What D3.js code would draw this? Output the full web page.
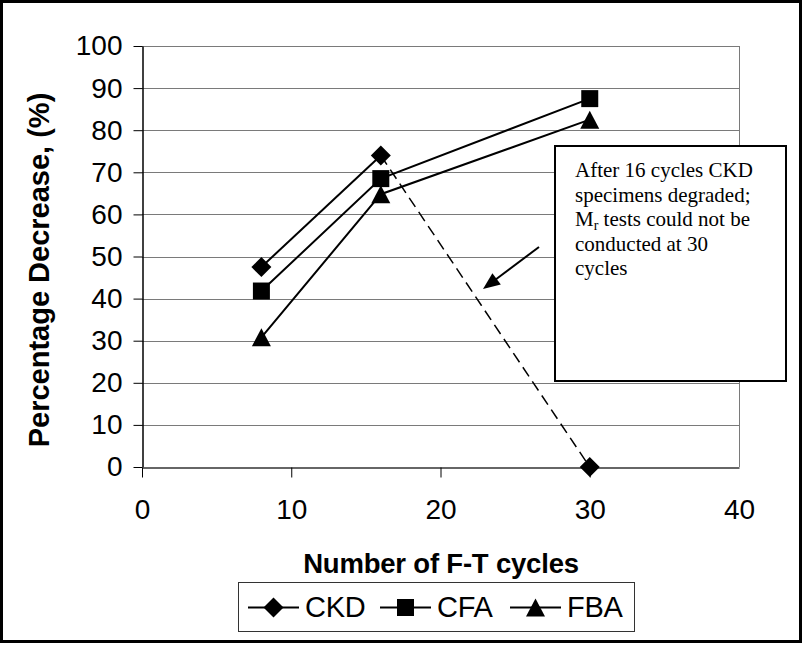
<!DOCTYPE html>
<html>
<head>
<meta charset="utf-8">
<script src="https://cdn.jsdelivr.net/npm/d3@7"></script>
<style>
  body { margin: 0; background: #fff; }
  svg { display: block; }
</style>
</head>
<body>
<div id="chart"></div>
<script>
// data
var cycles = [8, 16, 30];
var ckd = [47.5, 74, 0];
var cfa = [41.8, 68.5, 87.5];
var fba = [30.8, 64.8, 82.5];
var seriesNames = ["CKD", "CFA", "FBA"];
var xTicks = [0, 10, 20, 30, 40];
var yTicks = [0, 10, 20, 30, 40, 50, 60, 70, 80, 90, 100];
var noteLines = ["After 16 cycles CKD", "specimens degraded;", "M|r| tests could not be", "conducted at 30", "cycles"];

var width = 804, height = 645;
var plot = { left: 142, top: 46, right: 739, bottom: 467 };

var svg = d3.select("#chart").append("svg")
    .attr("width", width)
    .attr("height", height);

// outer frame
svg.append("rect")
    .attr("x", 1.5).attr("y", 1.5)
    .attr("width", 799).attr("height", 640)
    .attr("fill", "white")
    .attr("stroke", "black")
    .attr("stroke-width", 3);

var x = d3.scaleLinear().domain([0, 40]).range([plot.left, plot.right]);
var y = d3.scaleLinear().domain([0, 100]).range([plot.bottom, plot.top]);

// gridlines
svg.append("g")
    .selectAll("line")
    .data(yTicks.filter(d => d > 0))
    .enter().append("line")
    .attr("x1", plot.left).attr("x2", plot.right)
    .attr("y1", d => Math.round(y(d)) + 0.5)
    .attr("y2", d => Math.round(y(d)) + 0.5)
    .attr("stroke", "#7a7a7a")
    .attr("stroke-width", 1);

// right border of plot area
svg.append("line")
    .attr("x1", plot.right + 0.5).attr("x2", plot.right + 0.5)
    .attr("y1", plot.top).attr("y2", plot.bottom)
    .attr("stroke", "#7a7a7a");

// y axis
var yAxis = d3.axisLeft(y).tickValues(yTicks).tickSize(9).tickSizeOuter(0).tickPadding(11);
var gy = svg.append("g")
    .attr("transform", `translate(${plot.left + 0.5},0)`)
    .call(yAxis);
gy.select(".domain").attr("stroke", "black").attr("stroke-width", 1.5);
gy.selectAll(".tick line").attr("stroke", "black");
gy.selectAll("text")
    .attr("font-family", "Liberation Sans, Arial, sans-serif")
    .attr("font-size", 28)
    .attr("fill", "black");

// x axis
var xAxis = d3.axisBottom(x).tickValues(xTicks).tickSize(10).tickSizeOuter(0).tickPadding(22);
var gx = svg.append("g")
    .attr("transform", `translate(0,${plot.bottom + 0.5})`)
    .call(xAxis);
gx.select(".domain").attr("stroke", "#333").attr("stroke-width", 1.5);
gx.selectAll(".tick line").attr("stroke", "black");
gx.selectAll(".tick").filter(d => d == 40).select("line").attr("stroke", "#7a7a7a").attr("y2", 0);
gx.selectAll("text")
    .attr("font-family", "Liberation Sans, Arial, sans-serif")
    .attr("font-size", 28)
    .attr("fill", "black");

// axis titles
svg.append("text")
    .attr("transform", "translate(49,270) rotate(-90)")
    .attr("text-anchor", "middle")
    .attr("font-family", "Liberation Sans, Arial, sans-serif")
    .attr("font-weight", "bold")
    .attr("font-size", 29)
    .text("Percentage Decrease, (%)");

svg.append("text")
    .attr("x", 441).attr("y", 573)
    .attr("text-anchor", "middle")
    .attr("font-family", "Liberation Sans, Arial, sans-serif")
    .attr("font-weight", "bold")
    .attr("font-size", 27.5)
    .attr("letter-spacing", -0.2)
    .text("Number of F-T cycles");

// marker shapes
function marker(kind) {
    if (kind == "CKD") return "M0,-10L10,0L0,10L-10,0Z";
    if (kind == "CFA") return "M-8.5,-8.5H8.5V8.5H-8.5Z";
    return "M0,-9L9.5,9H-9.5Z";
}

var series = [
    { name: "CKD", values: ckd },
    { name: "CFA", values: cfa },
    { name: "FBA", values: fba }
];

var line = d3.line().x(d => x(d[0])).y(d => y(d[1]));

series.forEach(function (s) {
    var pts = cycles.map((c, i) => [c, s.values[i]]);
    if (s.name == "CKD") {
        svg.append("path")
            .attr("d", line(pts.slice(0, 2)))
            .attr("fill", "none").attr("stroke", "black").attr("stroke-width", 2);
        svg.append("path")
            .attr("d", line(pts.slice(1)))
            .attr("fill", "none").attr("stroke", "black").attr("stroke-width", 1.5)
            .attr("stroke-dasharray", "11,6");
    } else {
        svg.append("path")
            .attr("d", line(pts))
            .attr("fill", "none").attr("stroke", "black").attr("stroke-width", 2);
    }
});

series.forEach(function (s) {
    svg.append("g")
        .selectAll("path")
        .data(cycles.map((c, i) => [c, s.values[i]]))
        .enter().append("path")
        .attr("transform", d => `translate(${x(d[0])},${y(d[1])})`)
        .attr("d", marker(s.name))
        .attr("fill", "black");
});

// annotation box
var note = svg.append("g");
note.append("rect")
    .attr("x", 555).attr("y", 146)
    .attr("width", 231).attr("height", 235)
    .attr("fill", "white")
    .attr("stroke", "black")
    .attr("stroke-width", 2);

noteLines.forEach(function (txt, i) {
    var t = note.append("text")
        .attr("x", 575)
        .attr("y", 177 + i * 24.5)
        .attr("font-family", "Liberation Serif, Times New Roman, serif")
        .attr("font-size", 21)
        .attr("fill", "black");
    var parts = txt.split("|");
    if (parts.length > 1) {
        t.append("tspan").text(parts[0]);
        t.append("tspan").attr("font-size", 14).attr("dy", 4).text(parts[1]);
        t.append("tspan").attr("dy", -4).text(parts[2]);
    } else {
        t.text(txt);
    }
});

// arrow pointing at the dashed CKD segment
var a0 = [539, 247], a1 = [483, 289];
var dx = a1[0] - a0[0], dy = a1[1] - a0[1];
var len = Math.sqrt(dx * dx + dy * dy);
var ux = dx / len, uy = dy / len;
var headLen = 17, headHalf = 7;
var bx = a1[0] - ux * headLen, by = a1[1] - uy * headLen;
svg.append("line")
    .attr("x1", a0[0]).attr("y1", a0[1])
    .attr("x2", bx + ux * 2).attr("y2", by + uy * 2)
    .attr("stroke", "black")
    .attr("stroke-width", 2);
svg.append("path")
    .attr("d", `M${a1[0]},${a1[1]}L${bx - uy * headHalf},${by + ux * headHalf}L${bx + uy * headHalf},${by - ux * headHalf}Z`)
    .attr("fill", "black");

// legend
var legend = svg.append("g");
legend.append("rect")
    .attr("x", 238.5).attr("y", 582.5)
    .attr("width", 396).attr("height", 49)
    .attr("fill", "white")
    .attr("stroke", "#333")
    .attr("stroke-width", 1);

var legendX = [248, 380, 510];
series.forEach(function (s, i) {
    var lx = legendX[i];
    legend.append("line")
        .attr("x1", lx).attr("x2", lx + 51)
        .attr("y1", 607.5).attr("y2", 607.5)
        .attr("stroke", "black").attr("stroke-width", 2);
    legend.append("path")
        .attr("transform", `translate(${lx + 25.5},607.5)`)
        .attr("d", marker(s.name))
        .attr("fill", "black");
    legend.append("text")
        .attr("x", lx + 57).attr("y", 617)
        .attr("font-family", "Liberation Sans, Arial, sans-serif")
        .attr("font-size", 29)
        .attr("letter-spacing", -0.3)
        .text(s.name);
});
</script>
</body>
</html>
